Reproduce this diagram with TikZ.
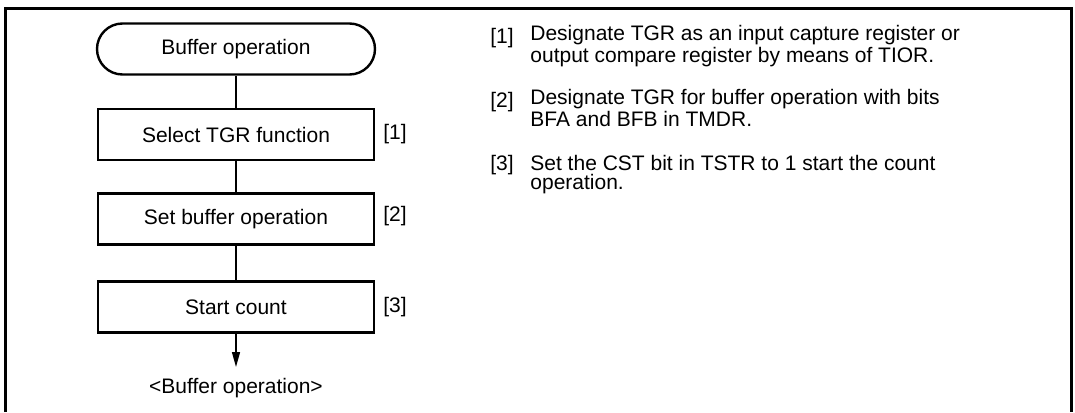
\documentclass[tikz,border=0pt]{standalone}
\usepackage{fontspec}
\setmainfont{Liberation Sans}
\usetikzlibrary{positioning,arrows.meta}

\begin{document}
\begin{tikzpicture}[
  x=0.5pt, y=-0.5pt,
  frame/.style={line width=1.5pt},
  stepbox/.style={rectangle, draw, line width=1.2pt, minimum width=138pt, minimum height=25.5pt, font=\fontsize{10.5}{9}\selectfont},
  term/.style={stepbox, rounded corners=12.75pt, minimum width=139pt},
  link/.style={line width=0.7pt},
  arrow/.style={-{Triangle[length=7.5pt, width=4pt]}, line width=0.7pt},
  tag/.style={inner sep=0pt, font=\fontsize{10.5}{9}\selectfont},
  note/.style={inner sep=0pt, align=left, font=\fontsize{10.5}{9.5}\selectfont},
]
\useasboundingbox (0,0) rectangle (1075,412);

% === FRAME ===
\draw[frame] (5,412) -- (5,8) -- (1071,8) -- (1071,412);

% === FLOW ===
\node[term] (start) at (236,49) {Buffer operation};
\node[stepbox] (s1) at (236,134.5) {Select TGR function};
\node[stepbox] (s2) at (236,219) {Set buffer operation};
\node[stepbox] (s3) at (236,307) {Start count};
\coordinate (end) at (236,367);
\node[tag] (done) at (236,388) {<Buffer operation>};

\draw[link] (start) -- (s1);
\draw[link] (s1) -- (s2);
\draw[link] (s2) -- (s3);
\draw[arrow] (s3) -- (end);

\node[tag, anchor=west] (t1) at (383,134) {[1]};
\node[tag, anchor=west] (t2) at (383,216) {[2]};
\node[tag, anchor=west] (t3) at (383,307) {[3]};

% === NOTES ===
\node[tag, anchor=base west] (k1) at (490,43) {[1]};
\node[note, anchor=base west] (n1) at (530,62) {Designate TGR as an input capture register or\\output compare register by means of TIOR.};
\node[tag, anchor=base west] (k2) at (490,107) {[2]};
\node[note, anchor=base west] (n2) at (530,126) {Designate TGR for buffer operation with bits\\BFA and BFB in TMDR.};
\node[tag, anchor=base west] (k3) at (490,170) {[3]};
\node[note, anchor=base west] (n3) at (530,189) {Set the CST bit in TSTR to 1 start the count\\operation.};
\end{tikzpicture}
\end{document}
